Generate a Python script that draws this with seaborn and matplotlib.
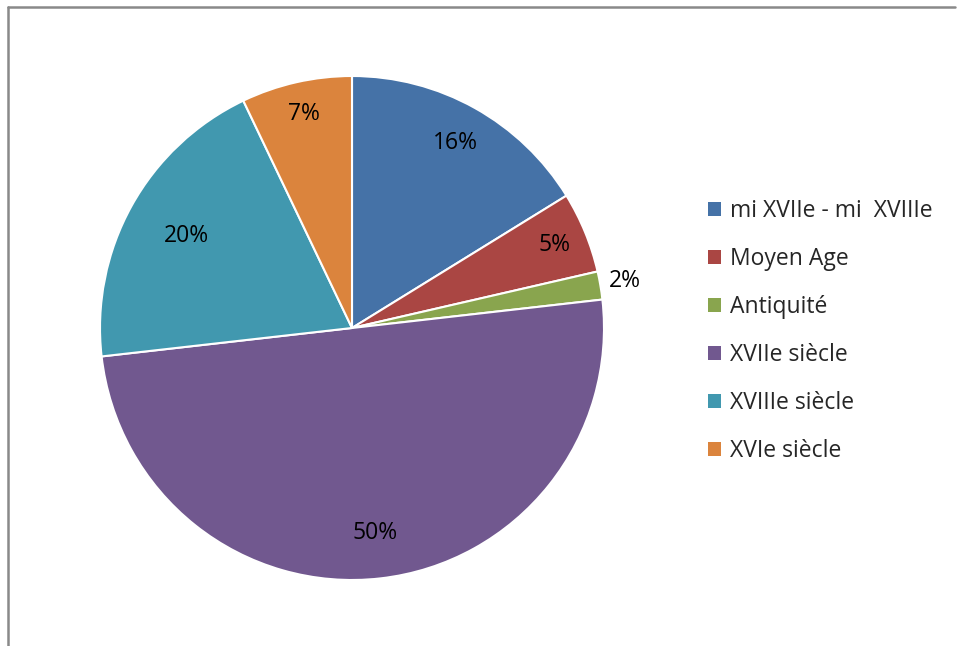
import numpy as np
import matplotlib
matplotlib.use("Agg")
import matplotlib.pyplot as plt
import seaborn as sns
from matplotlib.lines import Line2D
from matplotlib.patches import Patch

categories = ["mi XVIIe - mi  XVIIIe", "Moyen Age", "Antiquité",
              "XVIIe siècle", "XVIIIe siècle", "XVIe siècle"]
values = [16.2, 5.2, 1.8, 50.0, 19.7, 7.1]
colors_hex = ["#4572A7", "#AA4643", "#89A54E", "#71588F", "#4198AF", "#DB843D"]

sns.set_theme(style="white")
plt.rcParams['font.family'] = ['Open Sans', 'DejaVu Sans']
palette = sns.color_palette(colors_hex)

W, H = 957, 646
fig = plt.figure(figsize=(W / 100, H / 100), dpi=100)
fig.patch.set_facecolor("white")

# frame lines (top and left)
fig.add_artist(Line2D([8 / W, 8 / W], [0, 1 - 7 / H], transform=fig.transFigure,
                      color="#898989", lw=1.8))
fig.add_artist(Line2D([8 / W, 955 / W], [1 - 7 / H, 1 - 7 / H], transform=fig.transFigure,
                      color="#898989", lw=1.8))

cx, cy, r = 352, 328, 252
ax = fig.add_axes([(cx - r) / W, (H - cy - r) / H, 2 * r / W, 2 * r / H])
wedges, _ = ax.pie(values, colors=palette, startangle=90, counterclock=False,
                   radius=1.0, wedgeprops=dict(edgecolor="white", linewidth=1.5))
ax.set_xlim(-1, 1)
ax.set_ylim(-1, 1)
ax.set_aspect("equal")
ax.axis("off")

dists = [0.84, 0.87, 1.10, 0.82, 0.75, 0.87]
for w, v, d in zip(wedges, values, dists):
    th = np.deg2rad((w.theta1 + w.theta2) / 2)
    ax.text(d * np.cos(th), d * np.sin(th), f"{round(v):d}%", ha="center", va="center",
            fontsize=16.5, color="black")

handles = [Patch(facecolor=c, edgecolor="none") for c in palette]
leg = fig.legend(handles, categories, loc="upper left",
                 bbox_to_anchor=(708 / W, 1 - 199 / H), frameon=False,
                 fontsize=16.5, handlelength=0.55, handleheight=0.55,
                 handletextpad=0.4, labelspacing=1.05, borderaxespad=0,
                 borderpad=0)

fig.savefig("out.png", dpi=100, facecolor="white")
